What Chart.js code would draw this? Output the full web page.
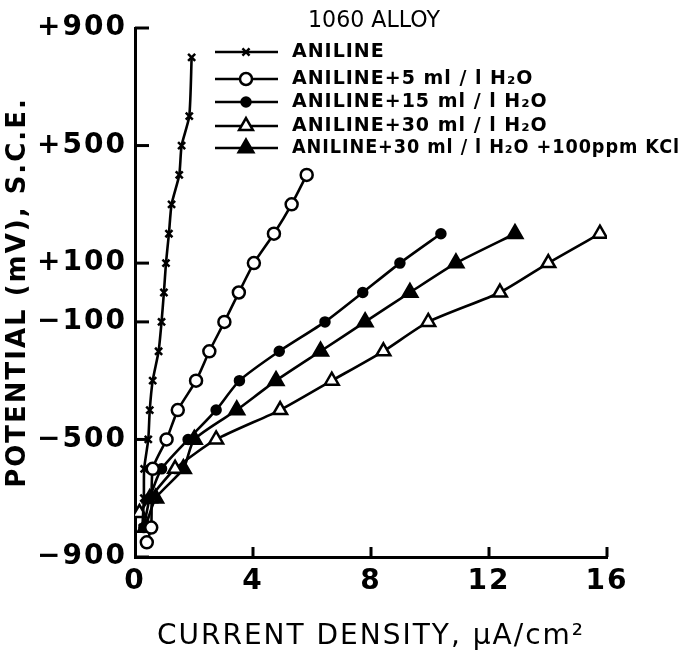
<!DOCTYPE html>
<html><head><meta charset="utf-8">
<script src="https://cdn.jsdelivr.net/npm/chart.js@4.4.1/dist/chart.umd.min.js"></script>
<style>html,body{margin:0;padding:0;background:#fff}#wrap{width:684px;height:658px;position:relative}</style>
</head><body><div id="wrap"><canvas id="c" width="684" height="658"></canvas></div>
<script>
// ---- data ----
const chartTitle = "1060 ALLOY";
const seriesNames = ["ANILINE", "ANILINE+5 ml / l H₂O", "ANILINE+15 ml / l H₂O", "ANILINE+30 ml / l H₂O", "ANILINE+30 ml / l H₂O +100ppm KCl"];
const xTickValues = [0, 4, 8, 12, 16];
const yTickValues = [900, 500, 100, -100, -500, -900];

const anilineCurrent   = [0.25, 0.30, 0.31, 0.45, 0.50, 0.60, 0.80, 0.90, 0.98, 1.05, 1.15, 1.24, 1.50, 1.58, 1.84, 1.92];
const anilinePotential = [-800, -700, -600, -500, -400, -300, -200, -100, 0, 100, 200, 300, 400, 500, 600, 800];

const h2o5Current   = [0.40, 0.55, 0.60, 1.07, 1.45, 2.07, 2.52, 3.03, 3.52, 4.03, 4.71, 5.31, 5.82];
const h2o5Potential = [-850, -800, -600, -500, -400, -300, -200, -100, 0, 100, 200, 300, 400];

const h2o15Current   = [0.30, 0.50, 0.90, 1.80, 2.75, 3.54, 4.89, 6.44, 7.72, 8.98, 10.37];
const h2o15Potential = [-800, -700, -600, -500, -400, -300, -200, -100, 0, 100, 200];

const h2o30Current   = [0.15, 0.50, 1.36, 2.75, 4.92, 6.67, 8.42, 9.94, 12.37, 14.01, 15.76];
const h2o30Potential = [-750, -700, -600, -500, -400, -300, -200, -100, 0, 100, 200];

const kclCurrent   = [0.35, 0.70, 1.64, 2.01, 3.45, 4.78, 6.29, 7.80, 9.32, 10.88, 12.88];
const kclPotential = [-800, -700, -600, -500, -400, -300, -200, -100, 0, 100, 200];

// ---- styles ----
const markerStyles = [
  {style: 'crossRot', fill: '#000', r: 5},
  {style: 'circle', fill: '#fff', r: 6},
  {style: 'circle', fill: '#000', r: 4.5},
  {style: 'triangle', fill: '#fff', r: 8},
  {style: 'triangle', fill: '#000', r: 8.5}
];

function makeSet(i, xs, ys) {
  const m = markerStyles[i];
  return {
    label: seriesNames[i],
    data: xs.map((x, k) => ({x: x, y: ys[k]})),
    showLine: true,
    borderColor: '#000',
    borderWidth: 2.6,
    tension: 0.2,
    pointStyle: m.style,
    pointRadius: m.r,
    pointHoverRadius: m.r,
    pointBackgroundColor: m.fill,
    pointBorderColor: '#000',
    pointBorderWidth: 2.5,
    fill: false
  };
}

const datasets = [
  makeSet(0, anilineCurrent, anilinePotential),
  makeSet(1, h2o5Current, h2o5Potential),
  makeSet(2, h2o15Current, h2o15Potential),
  makeSet(3, h2o30Current, h2o30Potential),
  makeSet(4, kclCurrent, kclPotential)
];

function drawMarker(ctx, m, x, y) {
  ctx.save();
  ctx.lineWidth = 2.5;
  ctx.strokeStyle = '#000';
  ctx.fillStyle = m.fill;
  ctx.beginPath();
  if (m.style === 'crossRot') {
    const d = m.r * Math.SQRT1_2;
    ctx.moveTo(x - d, y - d); ctx.lineTo(x + d, y + d);
    ctx.moveTo(x - d, y + d); ctx.lineTo(x + d, y - d);
    ctx.stroke();
  } else if (m.style === 'circle') {
    ctx.arc(x, y, m.r, 0, Math.PI * 2);
    ctx.fill(); ctx.stroke();
  } else {
    for (let k = 0; k < 3; k++) {
      const a = k * 2 * Math.PI / 3;
      const px = x + Math.sin(a) * m.r, py = y - Math.cos(a) * m.r;
      if (k === 0) ctx.moveTo(px, py); else ctx.lineTo(px, py);
    }
    ctx.closePath();
    ctx.fill(); ctx.stroke();
  }
  ctx.restore();
}

const decorPlugin = {
  id: 'decor',
  beforeDraw(chart) {
    chart.ctx.letterSpacing = '2px';
  },
  afterDraw(chart) {
    const ctx = chart.ctx;
    const ca = chart.chartArea;
    ctx.save();
    ctx.letterSpacing = '0px';
    // inward tick marks
    ctx.strokeStyle = '#000';
    ctx.lineWidth = 3;
    const ys = chart.scales.y, xs = chart.scales.x;
    ys.ticks.forEach(t => {
      const py = ys.getPixelForValue(t.value);
      ctx.beginPath(); ctx.moveTo(ca.left, py); ctx.lineTo(ca.left + 14, py); ctx.stroke();
    });
    xs.ticks.forEach(t => {
      if (t.value === xs.min) return;
      const px = xs.getPixelForValue(t.value);
      ctx.beginPath(); ctx.moveTo(px, ca.bottom); ctx.lineTo(px, ca.bottom - 10); ctx.stroke();
    });
    // title
    ctx.fillStyle = '#000';
    ctx.letterSpacing = '0px';
    ctx.font = '500 23px "DejaVu Sans"';
    ctx.textAlign = 'left';
    ctx.textBaseline = 'middle';
    ctx.fillText(chartTitle, 308, 21, 132);
    // legend
    const rowY = [52, 79, 102, 126, 148];
    ctx.letterSpacing = '1px';
    ctx.font = 'bold 19px "DejaVu Sans"';
    seriesNames.forEach((name, i) => {
      const y = rowY[i];
      ctx.strokeStyle = '#000'; ctx.lineWidth = 2.6;
      ctx.beginPath(); ctx.moveTo(215, y); ctx.lineTo(278, y); ctx.stroke();
      drawMarker(ctx, markerStyles[i], 246, y);
      ctx.fillStyle = '#000';
      ctx.textAlign = 'left'; ctx.textBaseline = 'middle';
      ctx.fillText(name, 292, y, 684 - 292 - 4);
    });
    ctx.restore();
  }
};

new Chart(document.getElementById('c'), {
  type: 'scatter',
  data: {datasets: datasets},
  plugins: [decorPlugin],
  options: {
    responsive: false,
    animation: false,
    devicePixelRatio: 1,
    layout: {padding: {top: 28, right: 77, bottom: 0, left: 0}},
    plugins: {legend: {display: false}, tooltip: {enabled: false}, title: {display: false}},
    scales: {
      x: {
        type: 'linear', min: 0, max: 16,
        afterBuildTicks: s => { s.ticks = xTickValues.map(v => ({value: v})); },
        ticks: {color: '#000', font: {family: '"DejaVu Sans"', size: 28, weight: 'bold'}, padding: 8, maxRotation: 0},
        grid: {display: false, drawTicks: false},
        border: {display: true, color: '#000', width: 3},
        title: {display: true, text: 'CURRENT DENSITY, μA/cm²', color: '#000', font: {family: '"DejaVu Sans"', size: 28}, padding: {top: 0, bottom: 4}},
        afterFit: s => { s.height = 101; }
      },
      y: {
        type: 'linear', min: -900, max: 900,
        afterBuildTicks: s => { s.ticks = yTickValues.map(v => ({value: v})); },
        ticks: {
          color: '#000', font: {family: '"DejaVu Sans"', size: 28, weight: 'bold'}, padding: 8,
          callback: v => (v > 0 ? '+' + v : (v < 0 ? '−' + Math.abs(v) : '' + v))
        },
        grid: {display: false, drawTicks: false},
        border: {display: true, color: '#000', width: 3},
        title: {display: true, text: 'POTENTIAL (mV), S.C.E.', color: '#000', font: {family: '"DejaVu Sans"', size: 26, weight: 'bold'}, padding: {top: 3, bottom: 0}},
        afterFit: s => { s.width = 135; }
      }
    }
  }
});
</script>
</body></html>
